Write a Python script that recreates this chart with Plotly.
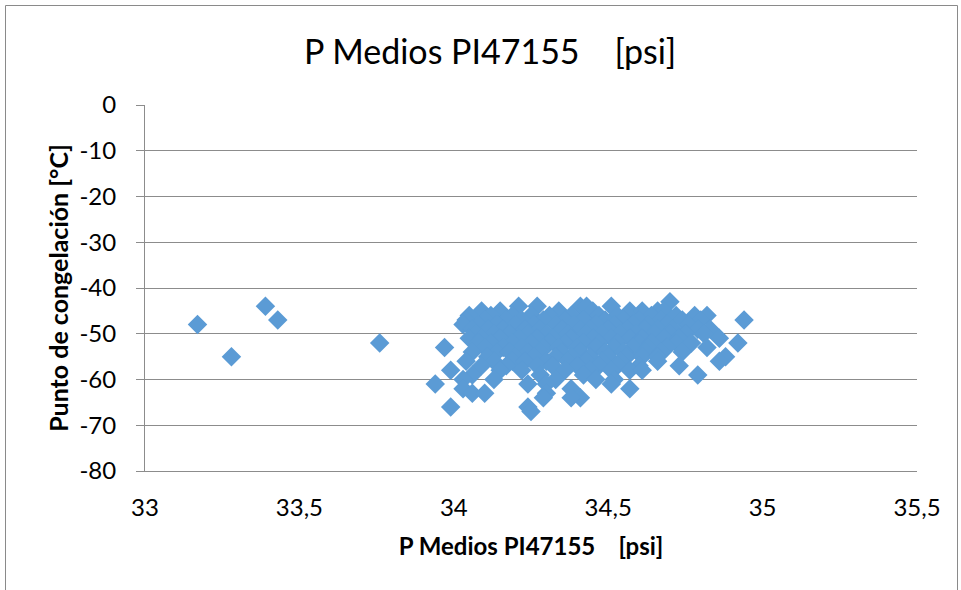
import plotly.graph_objects as go

# Mean pressure PI47155 [psi] vs. freezing point [°C]
presion = [
    33.17, 33.28, 33.39, 33.43, 33.76, 34.94,
    34.70,
    34.21, 34.27, 34.41, 34.51, 34.43,
    34.09, 34.15, 34.34, 34.57, 34.61, 34.45, 34.66, 34.68,
    34.05, 34.12, 34.19, 34.25, 34.31, 34.38, 34.47, 34.53, 34.64, 34.72, 34.78, 34.82,
    34.04, 34.10, 34.17, 34.22, 34.29, 34.36, 34.42, 34.49, 34.55, 34.60, 34.67, 34.74, 34.80,
    34.03, 34.08, 34.14, 34.20, 34.26, 34.33, 34.39, 34.46, 34.52, 34.58, 34.63, 34.69, 34.76,
    34.06, 34.11, 34.16, 34.23, 34.28, 34.35, 34.41, 34.44, 34.50, 34.56, 34.62, 34.66, 34.71, 34.79, 34.83,
    34.07, 34.13, 34.18, 34.24, 34.30, 34.37, 34.43, 34.48, 34.54, 34.59, 34.65, 34.70, 34.75, 34.81,
    34.05, 34.09, 34.15, 34.21, 34.27, 34.32, 34.38, 34.45, 34.51, 34.57, 34.61, 34.68, 34.73, 34.86,
    34.08, 34.12, 34.19, 34.25, 34.31, 34.36, 34.42, 34.47, 34.53, 34.60, 34.64, 34.72, 34.77, 34.92,
    34.10, 34.16, 34.22, 34.29, 34.34, 34.40, 34.46, 34.52, 34.58, 34.63, 34.69, 34.82, 33.97,
    34.06, 34.14, 34.18, 34.24, 34.28, 34.35, 34.41, 34.49, 34.55, 34.62, 34.67, 34.74,
    34.11, 34.20, 34.26, 34.33, 34.38, 34.44, 34.50, 34.56, 34.61, 34.66, 34.88,
    34.13, 34.19, 34.23, 34.30, 34.37, 34.43, 34.48, 34.54, 34.66, 34.86, 34.04,
    34.09, 34.17, 34.27, 34.32, 34.40, 34.47, 34.53, 34.60, 34.73,
    33.99, 34.15, 34.22, 34.36, 34.44, 34.51, 34.57, 34.61,
    34.06, 34.28, 34.42, 34.79,
    34.03, 34.13, 34.33, 34.46, 34.52,
    33.94, 34.24, 34.30, 34.51,
    34.03, 34.57, 34.38,
    34.06, 34.10, 34.30,
    34.29, 34.41, 34.38,
    33.99, 34.24,
    34.25,
]
punto_congelacion = [
    -48, -55, -44, -47, -52, -47,
    -43,
    -44, -44, -44, -44, -44,
    -45, -45, -45, -45, -45, -45, -45, -45,
    -46, -46, -46, -46, -46, -46, -46, -46, -46, -46, -46, -46,
    -47, -47, -47, -47, -47, -47, -47, -47, -47, -47, -47, -47, -47,
    -48, -48, -48, -48, -48, -48, -48, -48, -48, -48, -48, -48, -48,
    -49, -49, -49, -49, -49, -49, -49, -49, -49, -49, -49, -49, -49, -49, -49,
    -50, -50, -50, -50, -50, -50, -50, -50, -50, -50, -50, -50, -50, -50,
    -51, -51, -51, -51, -51, -51, -51, -51, -51, -51, -51, -51, -51, -51,
    -52, -52, -52, -52, -52, -52, -52, -52, -52, -52, -52, -52, -52, -52,
    -53, -53, -53, -53, -53, -53, -53, -53, -53, -53, -53, -53, -53,
    -54, -54, -54, -54, -54, -54, -54, -54, -54, -54, -54, -54,
    -55, -55, -55, -55, -55, -55, -55, -55, -55, -55, -55,
    -56, -56, -56, -56, -56, -56, -56, -56, -56, -56, -56,
    -57, -57, -57, -57, -57, -57, -57, -57, -57,
    -58, -58, -58, -58, -58, -58, -58, -58,
    -59, -59, -59, -59,
    -60, -60, -60, -60, -60,
    -61, -61, -61, -61,
    -62, -62, -62,
    -63, -63, -63,
    -64, -64, -64,
    -66, -66,
    -67,
]

x_ticks = [33, 33.5, 34, 34.5, 35, 35.5]
x_tick_text = ["33", "33,5", "34", "34,5", "35", "35,5"]
y_ticks = [0, -10, -20, -30, -40, -50, -60, -70, -80]
y_tick_text = ["0", "-10", "-20", "-30", "-40", "-50", "-60", "-70", "-80"]

titulo = "P Medios PI47155\u00a0\u00a0\u00a0\u00a0[psi]"
titulo_y = "Punto de congelación [°C]"

FONT = "Lato"
GRID = "#8c8c8c"

fig = go.Figure(
    go.Scatter(
        x=presion,
        y=punto_congelacion,
        mode="markers",
        marker=dict(symbol="diamond", size=15, color="#5B9BD5", line=dict(width=0)),
        showlegend=False,
        cliponaxis=False,
    )
)

fig.update_layout(
    width=961,
    height=590,
    margin=dict(l=145, r=44, t=105, b=119),
    paper_bgcolor="white",
    plot_bgcolor="white",
    font=dict(family=FONT, color="#000000"),
    title=dict(
        text=titulo,
        x=0.51,
        xanchor="center",
        y=0.912,
        yanchor="middle",
        font=dict(family=FONT, size=34, color="#000000"),
    ),
    xaxis=dict(
        range=[33, 35.5],
        tickvals=x_ticks,
        ticktext=x_tick_text,
        showgrid=False,
        zeroline=False,
        showline=True,
        linecolor=GRID,
        linewidth=1,
        ticks="",
        ticklabelstandoff=15,
        tickfont=dict(family=FONT, size=24),
        title=dict(
            text="<b>" + titulo + "</b>",
            font=dict(family=FONT, size=24),
            standoff=18,
        ),
    ),
    yaxis=dict(
        range=[-80, 0],
        tickvals=y_ticks,
        ticktext=y_tick_text,
        showgrid=True,
        gridcolor=GRID,
        gridwidth=1,
        zeroline=False,
        showline=True,
        linecolor=GRID,
        linewidth=1,
        ticks="outside",
        ticklen=8,
        tickcolor=GRID,
        ticklabelstandoff=15,
        tickfont=dict(family=FONT, size=24),
        title=dict(
            text="<b>" + titulo_y + "</b>",
            font=dict(family=FONT, size=25),
            standoff=3,
        ),
    ),
)

# Outer chart frame
fig.add_shape(
    type="rect",
    xref="paper",
    yref="paper",
    x0=(5.5 - 145) / 772,
    x1=(957.5 - 145) / 772,
    y0=(471 - 620) / 366,
    y1=(471 - 5.5) / 366,
    line=dict(color="#8a8a8a", width=1),
    fillcolor="rgba(0,0,0,0)",
    layer="below",
)

fig.write_html("out.html")
